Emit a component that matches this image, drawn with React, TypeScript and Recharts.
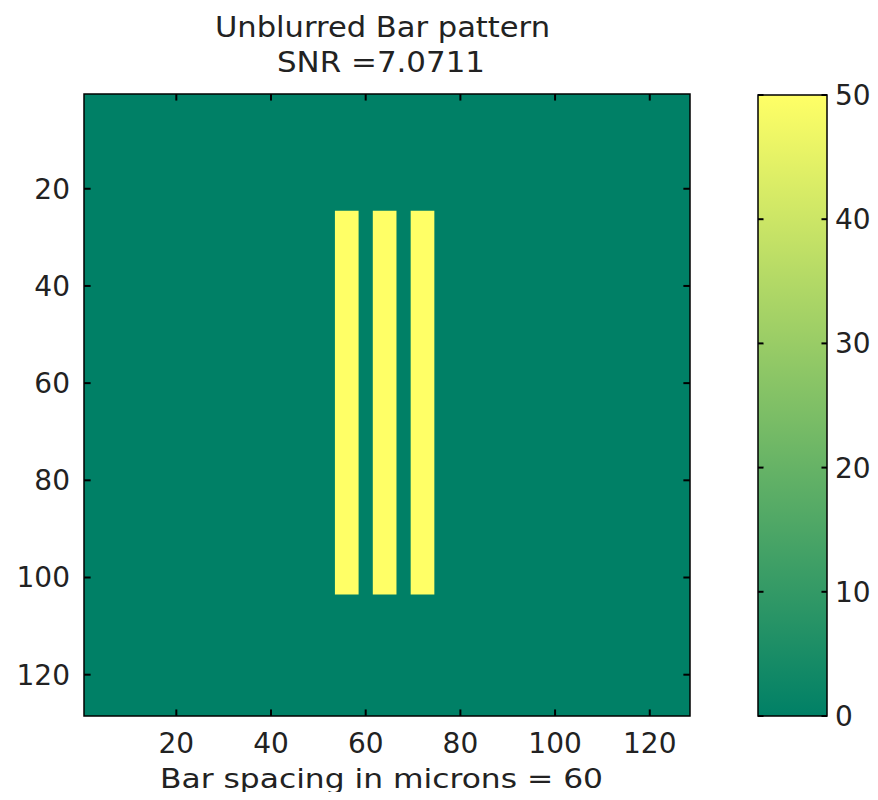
import React from 'react';
import { ComposedChart, XAxis, YAxis, ReferenceArea, ReferenceLine, CartesianGrid } from 'recharts';

// Image (128 x 128 pixels) of an unblurred bar pattern
const imageSize = 128;
const backgroundValue = 0;
const barValue = 50;
const barStartCols = [54, 62, 70];
const barEndCols = [58, 66, 74];
const barTopRow = 25;
const barBottomRow = 103;

const axisTicks = [20, 40, 60, 80, 100, 120];
const colorbarTicks = [0, 10, 20, 30, 40, 50];
const colorbarRange = [0, 50];

const titleLines = ['Unblurred Bar pattern', 'SNR =7.0711'];
const xLabel = 'Bar spacing in microns = 60';

// MATLAB "summer" colormap
const summer = (v: number) => {
  const t = Math.max(0, Math.min(1, (v - colorbarRange[0]) / (colorbarRange[1] - colorbarRange[0])));
  const r = Math.round(255 * t);
  const g = Math.round(255 * (0.5 + 0.5 * t));
  const b = Math.round(255 * 0.4);
  return `rgb(${r},${g},${b})`;
};

const FONT = 'DejaVu Sans';
const TXT = '#222';
const tickStyle = { fontFamily: FONT, fontSize: 28, fill: TXT };

// inward tick mark lengths, in axis units (about 6 px)
const TICK_LEN_X = 1.4;
const TICK_LEN_Y = 1.35;
const CB_TICK_LEN = 0.08;

const bars = barStartCols.map((s, i) => ({ x1: s - 0.5, x2: barEndCols[i] + 0.5 }));
const cbData = [{ x: 0 }, { x: 1 }];

export default function App() {
  const lo = 0.5;
  const hi = imageSize + 0.5;
  const dom: [number, number] = [lo, hi];
  const tickLine = { stroke: '#000', strokeWidth: 2, strokeOpacity: 1 };
  return (
    <div style={{ position: 'relative', margin: -8, width: 878, height: 800, background: '#fff', overflow: 'hidden' }}>
      <svg width={1} height={1} style={{ position: 'absolute', left: 0, top: 0 }}>
        <defs>
          <linearGradient id="summerGrad" x1="0" y1="1" x2="0" y2="0">
            <stop offset="0%" stopColor={summer(colorbarRange[0])} />
            <stop offset="100%" stopColor={summer(colorbarRange[1])} />
          </linearGradient>
        </defs>
      </svg>

      <div style={{ position: 'absolute', left: 0, top: 0 }}>
        <ComposedChart width={878} height={800} data={bars} margin={{ top: 94, right: 188, bottom: 44, left: 24 }}>
          <CartesianGrid horizontal={false} vertical={false} fill={summer(backgroundValue)} fillOpacity={1} />
          <XAxis type="number" dataKey="x1" domain={dom} ticks={axisTicks} allowDataOverflow
            height={40} tickSize={0} tickMargin={17} tick={tickStyle} axisLine={false} tickLine={false} />
          <YAxis type="number" domain={dom} ticks={axisTicks} reversed allowDataOverflow
            width={60} tickSize={0} tickMargin={14} tick={tickStyle} axisLine={false} tickLine={false} />
          {bars.map((b, i) => (
            <ReferenceArea key={i} x1={b.x1} x2={b.x2} y1={barTopRow - 0.5} y2={barBottomRow + 0.5}
              fill={summer(barValue)} fillOpacity={1} stroke="none" />
          ))}
          <ReferenceArea x1={lo} x2={hi} y1={lo} y2={hi} fill="none" stroke="#000" strokeWidth={1.5} />
          {axisTicks.map((t) => (
            <React.Fragment key={t}>
              <ReferenceLine segment={[{ x: lo, y: t }, { x: lo + TICK_LEN_X, y: t }]} {...tickLine} />
              <ReferenceLine segment={[{ x: hi - TICK_LEN_X, y: t }, { x: hi, y: t }]} {...tickLine} />
              <ReferenceLine segment={[{ x: t, y: hi }, { x: t, y: hi - TICK_LEN_Y }]} {...tickLine} />
              <ReferenceLine segment={[{ x: t, y: lo }, { x: t, y: lo + TICK_LEN_Y }]} {...tickLine} />
            </React.Fragment>
          ))}
        </ComposedChart>
      </div>

      <div style={{ position: 'absolute', left: 738, top: 0 }}>
        <ComposedChart width={140} height={800} data={cbData} margin={{ top: 95, right: 0, bottom: 84, left: 20 }}>
          <CartesianGrid horizontal={false} vertical={false} fill="url(#summerGrad)" fillOpacity={1} />
          <XAxis type="number" dataKey="x" domain={[0, 1]} hide allowDataOverflow />
          <YAxis yAxisId="r" orientation="right" type="number" domain={colorbarRange} ticks={colorbarTicks} allowDataOverflow
            width={51} tickSize={0} tickMargin={8} tick={tickStyle} axisLine={false} tickLine={false} />
          <ReferenceArea yAxisId="r" x1={0} x2={1} y1={colorbarRange[0]} y2={colorbarRange[1]}
            fill="none" stroke="#000" strokeWidth={1.5} />
          {colorbarTicks.map((t) => (
            <React.Fragment key={t}>
              <ReferenceLine yAxisId="r" segment={[{ x: 0, y: t }, { x: CB_TICK_LEN, y: t }]} {...tickLine} />
              <ReferenceLine yAxisId="r" segment={[{ x: 1 - CB_TICK_LEN, y: t }, { x: 1, y: t }]} {...tickLine} />
            </React.Fragment>
          ))}
        </ComposedChart>
      </div>

      <svg width={878} height={800} style={{ position: 'absolute', left: 0, top: 0, pointerEvents: 'none' }}>
        <g fontFamily={FONT} fill={TXT} textAnchor="middle">
          <text x={382.5} y={36.5} fontSize={29} textLength={335} lengthAdjust="spacingAndGlyphs">{titleLines[0]}</text>
          <text x={381} y={72} fontSize={29} textLength={208} lengthAdjust="spacingAndGlyphs">{titleLines[1]}</text>
          <text x={381.5} y={788} fontSize={26} textLength={443} lengthAdjust="spacingAndGlyphs">{xLabel}</text>
        </g>
      </svg>
    </div>
  );
}
